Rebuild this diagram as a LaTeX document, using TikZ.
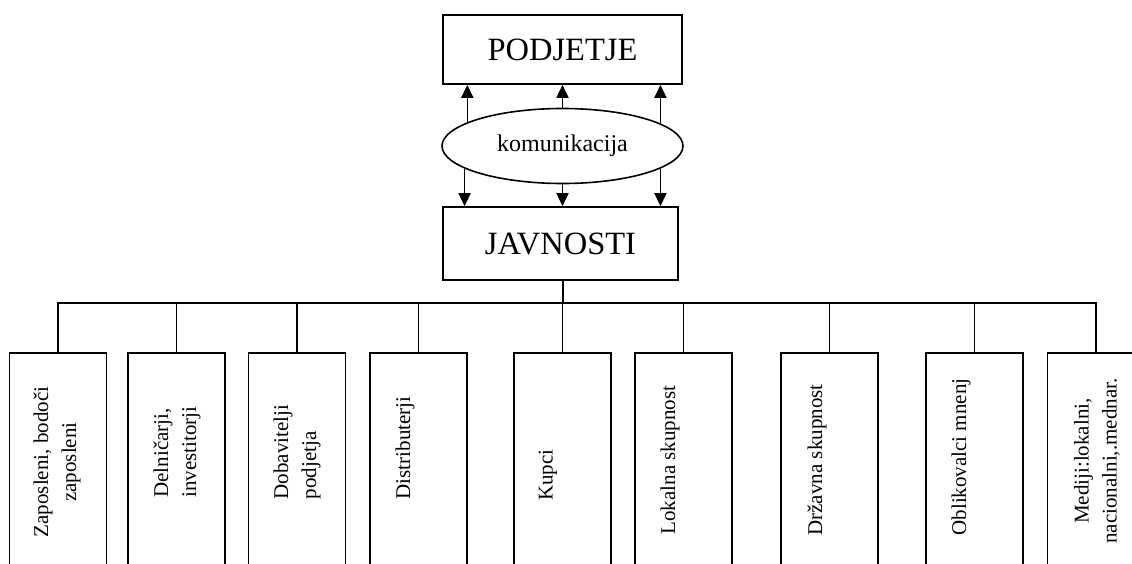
\documentclass[tikz,border=0pt]{standalone}
\usepackage{fontspec}
\setmainfont{Liberation Serif}
\usetikzlibrary{shapes.geometric,arrows.meta}
\begin{document}
\begin{tikzpicture}[x=1pt,y=-1pt,
  ln/.style={line width=1.6pt},
  topbox/.style={draw,ln,rectangle,inner sep=0,font=\fontsize{32.5}{38}\selectfont},
  grp/.style={draw,ln,rectangle,inner sep=0,minimum width=97pt,minimum height=260pt,anchor=north},
  lbl/.style={rotate=90,inner sep=0,font=\fontsize{21}{28}\selectfont},
  arr/.style={ln,-{Triangle[length=13pt,width=12pt]}}]
\clip (0,0) rectangle (1132,564);
\fill[white] (0,0) rectangle (1132,564);
\node[topbox,minimum width=239pt,minimum height=69pt] (p) at (562.5,49.5) {PODJETJE};
\node[topbox,minimum width=235pt,minimum height=73pt] (j) at (560.5,243.5) {JAVNOSTI};
\node[draw,ln,ellipse,minimum width=241pt,minimum height=75pt,inner sep=0,font=\fontsize{24}{28}\selectfont] (e) at (562.5,146) {komunikacija};
\draw[arr] (e.166.5) -- (e.166.5 |- p.south);
\draw[arr] (e.north) -- (p.south);
\draw[arr] (e.13.1) -- (e.13.1 |- p.south);
\draw[arr] (e.193.5) -- (e.193.5 |- j.north);
\draw[arr] (e.south) -- (e.south |- j.north);
\draw[arr] (e.-13.1) -- (e.-13.1 |- j.north);
\node[grp] (b1) at (58,352) {};
\node[grp] (b2) at (176.5,352) {};
\node[grp] (b3) at (297,352) {};
\node[grp] (b4) at (418.5,352) {};
\node[grp] (b5) at (562.5,352) {};
\node[grp] (b6) at (683.5,352) {};
\node[grp] (b7) at (829.5,352) {};
\node[grp] (b8) at (974.5,352) {};
\node[grp] (b9) at (1096,352) {};
\coordinate (bus) at (563,303);
\draw[ln] (bus |- j.south) -- (bus);
\draw[ln] (b1.north) -- (b1.north |- bus) -- (b9.north |- bus) -- (b9.north);
\foreach \i in {2,...,8} {\draw[ln] (b\i.north) -- (b\i.north |- bus);}
\node[lbl,align=center] (t1) at (57,462) {Zaposleni, bodoči\\zaposleni};
\node[lbl,align=left] (t2) at (177,452) {Delničarji,\\investitorji};
\node[lbl,align=left] (t3) at (297,452) {Dobavitelji\\podjetja};
\node[lbl] (t4) at (405,448) {Distributerji};
\node[lbl] (t5) at (548,475) {Kupci};
\node[lbl] (t6) at (670,460) {Lokalna skupnost};
\node[lbl] (t7) at (817,460) {Državna skupnost};
\node[lbl] (t8) at (961,457) {Oblikovalci mnenj};
\node[lbl,align=center] (t9) at (1097,461) {Mediji:lokalni,\\nacionalni,.mednar.};
\end{tikzpicture}
\end{document}
